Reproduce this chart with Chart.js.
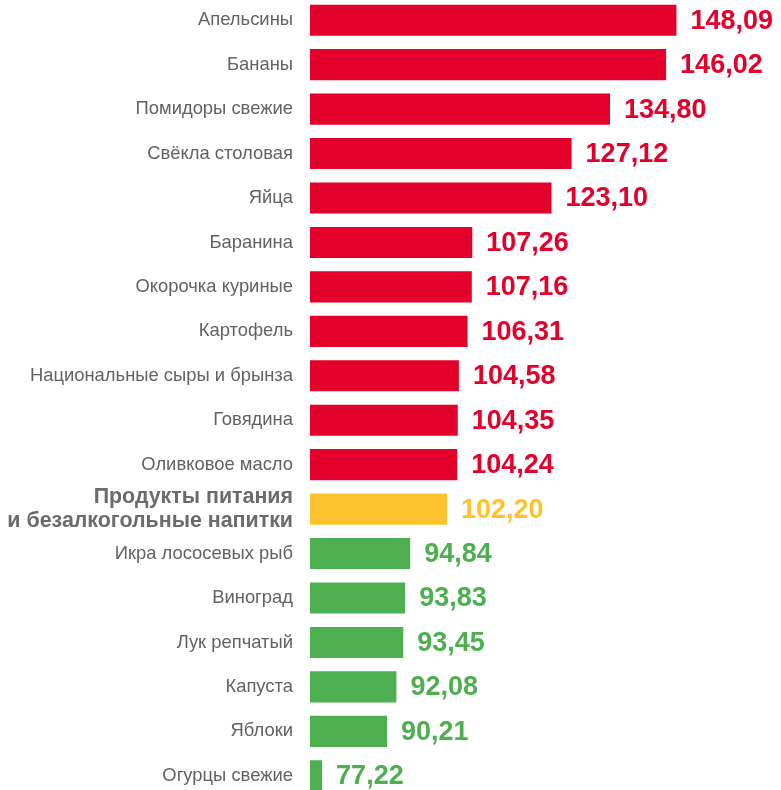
<!DOCTYPE html>
<html>
<head>
<meta charset="utf-8">
<script src="https://cdn.jsdelivr.net/npm/chart.js@4"></script>
<style>
  html, body { margin: 0; padding: 0; background: #fff; overflow: hidden; }
  #wrap { position: absolute; left: 0; top: -2px; width: 781px; height: 800px; }
</style>
</head>
<body>
<div id="wrap"><canvas id="chart"></canvas></div>
<script>
// категории и индексы цен
const labels = [
    'Апельсины', 'Бананы', 'Помидоры свежие', 'Свёкла столовая', 'Яйца',
    'Баранина', 'Окорочка куриные', 'Картофель', 'Национальные сыры и брынза',
    'Говядина', 'Оливковое масло',
    ['Продукты питания', 'и безалкогольные напитки'],
    'Икра лососевых рыб', 'Виноград', 'Лук репчатый', 'Капуста', 'Яблоки', 'Огурцы свежие'
];
const values = [148.09, 146.02, 134.80, 127.12, 123.10, 107.26, 107.16, 106.31, 104.58,
    104.35, 104.24, 102.20, 94.84, 93.83, 93.45, 92.08, 90.21, 77.22];
const totalIndex = 11; // строка "Продукты питания..."

const RED = '#e3002b';
const YELLOW = '#fec22e';
const GREEN = '#4daf50';

const colors = values.map((v, i) => i === totalIndex ? YELLOW : (v > values[totalIndex] ? RED : GREEN));

// подписи значений справа от столбцов
const valueLabels = {
    id: 'valueLabels',
    afterDatasetsDraw(chart) {
        const ctx = chart.ctx;
        const meta = chart.getDatasetMeta(0);
        ctx.save();
        ctx.font = 'bold 27px "Liberation Sans", Arial, sans-serif';
        ctx.textAlign = 'left';
        ctx.textBaseline = 'middle';
        meta.data.forEach((bar, i) => {
            ctx.fillStyle = colors[i];
            ctx.fillText(values[i].toFixed(2).replace('.', ','), bar.x + 14, bar.y + 1);
        });
        ctx.restore();
    }
};

new Chart(document.getElementById('chart'), {
    type: 'bar',
    data: {
        labels: labels,
        datasets: [{
            data: values,
            backgroundColor: colors,
            borderWidth: 0,
            barPercentage: 0.7,
            categoryPercentage: 1
        }]
    },
    options: {
        indexAxis: 'y',
        responsive: true,
        maintainAspectRatio: false,
        animation: false,
        layout: { padding: 0 },
        plugins: {
            legend: { display: false },
            tooltip: { enabled: false }
        },
        scales: {
            x: {
                display: false,
                min: 74.8,
                max: 169
            },
            y: {
                afterFit: scale => {
                    scale.width = 310;
                    scale.paddingTop = 0;
                    scale.paddingBottom = 0;
                },
                grid: { display: false, drawTicks: false },
                border: { display: false },
                ticks: {
                    autoSkip: false,
                    padding: 17,
                    color: ctx => ctx.index === totalIndex ? '#6b6b6b' : '#626262',
                    font: ctx => ctx.index === totalIndex
                        ? { family: '"Liberation Sans", Arial, sans-serif', size: 21.4, weight: 'bold', lineHeight: 1.13 }
                        : { family: '"Liberation Sans", Arial, sans-serif', size: 18.4 }
                }
            }
        }
    },
    plugins: [valueLabels]
});
</script>
</body>
</html>
